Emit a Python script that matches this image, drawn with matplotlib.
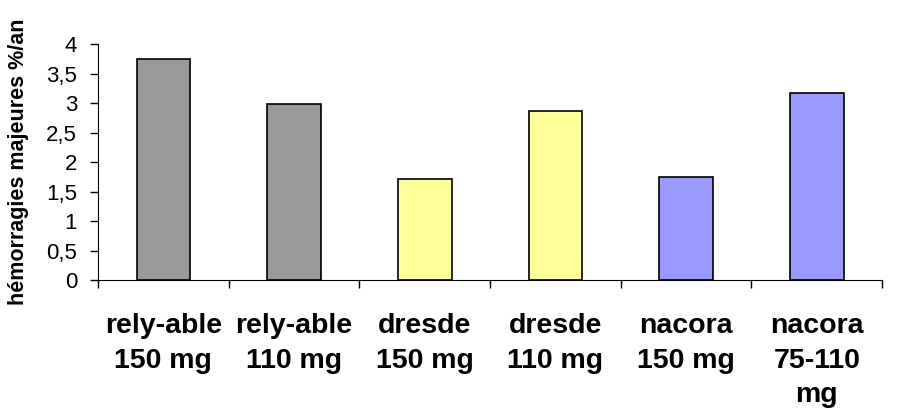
import numpy as np
import matplotlib.pyplot as plt
from matplotlib.ticker import FuncFormatter

categories = ['rely-able\n150 mg', 'rely-able\n110 mg', 'dresde\n150 mg',
              'dresde\n110 mg', 'nacora\n150 mg', 'nacora\n75-110\nmg']
values = [3.74, 2.98, 1.72, 2.87, 1.75, 3.17]
colors = ['#999999', '#999999', '#FFFF99', '#FFFF99', '#9999FF', '#9999FF']

plt.rcParams['font.family'] = ['Liberation Sans', 'DejaVu Sans']

fig = plt.figure(figsize=(9.02, 4.12), dpi=100)
ax = fig.add_axes([0.1086, 0.320, 0.8694, 0.573])

x = np.arange(len(values))
ax.bar(x, values, width=0.41, color=colors, edgecolor='black', linewidth=1.2, zorder=2)

ax.set_xlim(-0.5, len(values) - 0.5)
ax.set_ylim(0, 4)
ax.set_yticks(np.arange(0, 4.01, 0.5))
ax.yaxis.set_major_formatter(FuncFormatter(lambda v, p: ('%g' % v).replace('.', ',')))
ax.tick_params(axis='y', labelsize=16, length=6, width=1, direction='out', pad=9)

ax.set_xticks(np.arange(-0.5, len(values)), minor=False)
ax.set_xticklabels([])
ax.set_xticks(x, minor=True)
ax.set_xticklabels(categories, minor=True, fontsize=20.5, fontweight='bold', va='top')
ax.tick_params(axis='x', which='major', length=6, width=1, direction='out')
ax.tick_params(axis='x', which='minor', length=0, pad=24)
for lbl in ax.get_xticklabels(minor=True):
    lbl.set_linespacing(1.42)

ax.spines['top'].set_visible(False)
ax.spines['right'].set_visible(False)
ax.spines['bottom'].set_color('black')
ax.spines['left'].set_color('black')

ax.set_ylabel('hémorragies majeures %/an', fontsize=15.5, fontweight='bold')
ax.yaxis.set_label_coords(-0.088, 0.5)

fig.savefig('out.png', dpi=100)
